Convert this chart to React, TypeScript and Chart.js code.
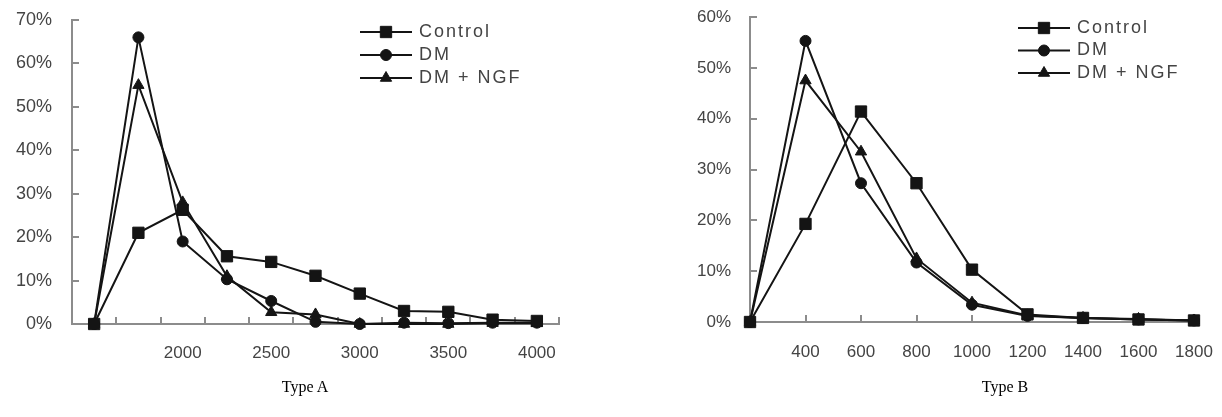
import React, { useEffect, useRef } from 'react';
import { Chart, registerables } from 'chart.js';
import { drawPoint } from 'chart.js/helpers';

Chart.register(...registerables);

// ---------- Data ----------
const seriesNames = ['Control', 'DM', 'DM + NGF'];
const seriesMarkers = ['rect', 'circle', 'triangle'];

const typeACategories = ['1500', '1750', '2000', '2250', '2500', '2750', '3000', '3250', '3500', '3750', '4000'];
const typeATickLabels = ['', '', '2000', '', '2500', '', '3000', '', '3500', '', '4000'];
const typeAControl = [0, 21, 26.3, 15.6, 14.3, 11.1, 7.0, 3.0, 2.8, 1.0, 0.7];
const typeADM = [0, 66, 19, 10.3, 5.3, 0.5, 0, 0.3, 0.2, 0.3, 0.3];
const typeADMNGF = [0, 55, 28, 11, 2.7, 2.2, 0, 0, 0, 0.2, 0.2];
const typeAYMax = 70;

const typeBCategories = ['200', '400', '600', '800', '1000', '1200', '1400', '1600', '1800'];
const typeBTickLabels = ['', '400', '600', '800', '1000', '1200', '1400', '1600', '1800'];
const typeBControl = [0, 19.3, 41.4, 27.3, 10.3, 1.5, 0.8, 0.5, 0.3];
const typeBDM = [0, 55.3, 27.3, 11.7, 3.4, 1.2, 0.8, 0.5, 0.3];
const typeBDMNGF = [0, 47.5, 33.5, 12.5, 3.8, 1.3, 0.8, 0.6, 0.3];
const typeBYMax = 60;

const yStep = 10;

// ---------- Styles ----------
const AXIS_COLOR = '#8c8c8c';
const TEXT_COLOR = '#444444';
const LINE_COLOR = '#141414';
const FONT_FAMILY = '"Liberation Sans", Arial, sans-serif';

const lineLegend = {
  id: 'lineLegend',
  afterDraw(chart: any, _args: any, opts: any) {
    const ctx = chart.ctx as CanvasRenderingContext2D;
    chart.data.datasets.forEach((ds: any, i: number) => {
      const yy = opts.y + i * opts.gap;
      ctx.save();
      ctx.strokeStyle = ds.borderColor;
      ctx.lineWidth = ds.borderWidth;
      ctx.beginPath();
      ctx.moveTo(opts.x, yy);
      ctx.lineTo(opts.x + opts.lineLen, yy);
      ctx.stroke();
      ctx.fillStyle = ds.pointBackgroundColor;
      ctx.strokeStyle = ds.pointBorderColor;
      ctx.lineWidth = 1;
      drawPoint(ctx, { pointStyle: ds.pointStyle, radius: ds.pointRadius, borderWidth: 1, rotation: 0 } as any, opts.x + opts.lineLen / 2, yy);
      ctx.font = opts.font;
      ctx.fillStyle = TEXT_COLOR;
      ctx.textBaseline = 'middle';
      ctx.textAlign = 'left';
      (ctx as any).letterSpacing = opts.letterSpacing;
      ctx.fillText(ds.label, opts.x + opts.lineLen + opts.textGap, yy);
      ctx.restore();
    });
  },
};

function pointRadiusFor(style: string) {
  if (style === 'rect') return 8;
  if (style === 'triangle') return 6.5;
  return 5.5;
}

function makeConfig(p: any): any {
  const values = [p.control, p.dm, p.dmngf];
  return {
    type: 'line',
    data: {
      labels: p.categories,
      datasets: seriesNames.map((name, i) => ({
        label: name,
        data: values[i],
        borderColor: LINE_COLOR,
        borderWidth: 2,
        pointStyle: seriesMarkers[i],
        pointRadius: pointRadiusFor(seriesMarkers[i]),
        pointBackgroundColor: LINE_COLOR,
        pointBorderColor: LINE_COLOR,
        pointBorderWidth: 1,
        tension: 0,
        fill: false,
        clip: false,
      })),
    },
    options: {
      animation: false,
      responsive: false,
      maintainAspectRatio: false,
      layout: { padding: p.padding },
      plugins: {
        legend: { display: false },
        tooltip: { enabled: false },
        lineLegend: p.legend,
      },
      scales: {
        x: {
          type: 'category',
          offset: p.offset,
          grid: {
            display: true,
            drawOnChartArea: false,
            offset: p.offset,
            tickLength: -7,
            color: AXIS_COLOR,
            lineWidth: 2,
          },
          border: { display: true, color: AXIS_COLOR, width: 2 },
          ticks: {
            autoSkip: false,
            maxRotation: 0,
            padding: p.xPad,
            color: TEXT_COLOR,
            font: { family: FONT_FAMILY, size: p.xFontSize },
            callback: (_v: any, i: number) => p.tickLabels[i],
          },
          afterFit: (s: any) => {
            s.height = p.xHeight;
            s.paddingLeft = 0;
            s.paddingRight = 0;
          },
        },
        y: {
          min: 0,
          max: p.yMax,
          grid: {
            display: true,
            drawOnChartArea: false,
            tickLength: -7,
            color: AXIS_COLOR,
            lineWidth: 2,
          },
          border: { display: true, color: AXIS_COLOR, width: 2 },
          ticks: {
            stepSize: yStep,
            padding: p.yPad,
            color: TEXT_COLOR,
            font: { family: FONT_FAMILY, size: p.yFontSize },
            callback: (v: any) => v + '%',
          },
          afterFit: (s: any) => {
            s.width = p.yWidth;
            s.paddingTop = 0;
            s.paddingBottom = 0;
          },
        },
      },
    },
    plugins: [lineLegend],
  };
}

function LineChart({ config, left, width, height }: any) {
  const ref = useRef<HTMLCanvasElement | null>(null);
  useEffect(() => {
    if (!ref.current) return;
    const chart = new Chart(ref.current, config);
    return () => chart.destroy();
  }, [config]);
  return (
    <canvas
      ref={ref}
      width={width}
      height={height}
      style={{ position: 'absolute', left, top: 0, width, height }}
    />
  );
}

const legendFont = `18px ${FONT_FAMILY}`;

const configA = makeConfig({
  categories: typeACategories,
  tickLabels: typeATickLabels,
  control: typeAControl,
  dm: typeADM,
  dmngf: typeADMNGF,
  yMax: typeAYMax,
  offset: true,
  padding: { left: 0, right: 41, top: 20, bottom: 0 },
  xHeight: 93,
  yWidth: 72,
  xPad: 26,
  yPad: 27,
  xFontSize: 17,
  yFontSize: 18,
  legend: { x: 360, y: 32, gap: 23, lineLen: 52, textGap: 7, font: legendFont, letterSpacing: '2px' },
});

const configB = makeConfig({
  categories: typeBCategories,
  tickLabels: typeBTickLabels,
  control: typeBControl,
  dm: typeBDM,
  dmngf: typeBDMNGF,
  yMax: typeBYMax,
  offset: false,
  padding: { left: 0, right: 28, top: 17, bottom: 0 },
  xHeight: 95,
  yWidth: 70,
  xPad: 27,
  yPad: 26,
  xFontSize: 17,
  yFontSize: 17,
  legend: { x: 338, y: 28, gap: 22.5, lineLen: 52, textGap: 7, font: legendFont, letterSpacing: '2px' },
});

const captionStyle: React.CSSProperties = {
  position: 'absolute',
  top: 377,
  width: 120,
  textAlign: 'center',
  fontFamily: '"Liberation Serif", "Times New Roman", serif',
  fontSize: 16,
  lineHeight: '20px',
  color: '#000',
};

export default function App() {
  return (
    <div style={{ position: 'fixed', left: 0, top: 0, width: 1222, height: 417, background: '#fff', overflow: 'hidden' }}>
      <LineChart config={configA} left={0} width={600} height={417} />
      <LineChart config={configB} left={680} width={542} height={417} />
      <div style={{ ...captionStyle, left: 305 - 60 }}>Type A</div>
      <div style={{ ...captionStyle, left: 1005 - 60 }}>Type B</div>
    </div>
  );
}
